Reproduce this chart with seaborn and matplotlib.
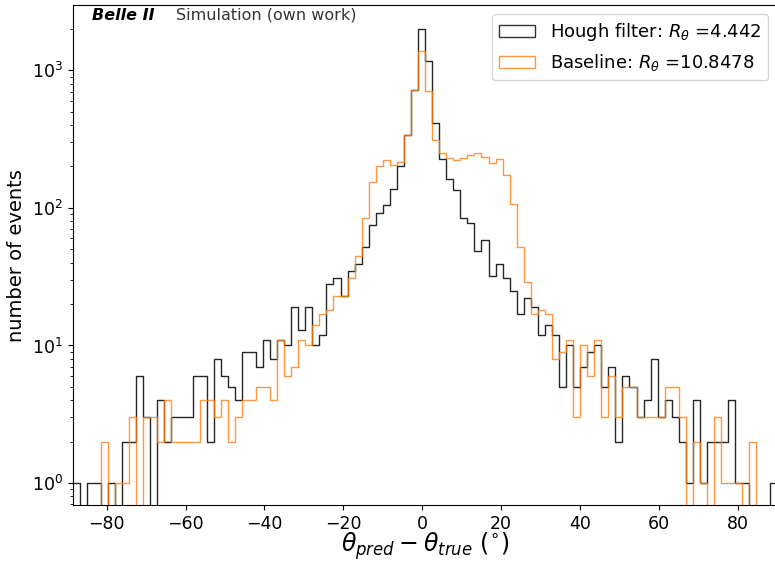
import numpy as np
import pandas as pd
import seaborn as sns
import matplotlib.pyplot as plt
from matplotlib.patches import Patch

# histogram range (degrees) and number of bins
theta_min = -88.6
theta_max = 90.0
n_bins = 100

# counts per bin
hough_counts = [
    1, 0, 1, 1, 0, 1, 0, 2, 2, 6,
    3, 0, 4, 2, 3, 3, 3, 6, 6, 2,
    8, 6, 5, 4, 9, 9, 7, 11, 8, 11,
    10, 19, 13, 19, 10, 12, 28, 31, 23, 35,
    39, 52, 75, 92, 105, 138, 200, 338, 718, 2000,
    1170, 411, 228, 161, 135, 84, 78, 49, 58, 32,
    39, 31, 25, 17, 22, 19, 12, 14, 12, 5,
    10, 5, 7, 9, 10, 5, 7, 2, 6, 5,
    3, 4, 8, 3, 4, 3, 2, 1, 4, 1,
    2, 2, 2, 4, 1, 1, 0, 0, 0, 1,
]
baseline_counts = [
    0, 0, 0, 0, 2, 0, 1, 1, 3, 0,
    3, 3, 2, 4, 2, 2, 2, 2, 4, 4,
    3, 4, 2, 3, 4, 4, 5, 5, 4, 11,
    6, 7, 11, 10, 14, 17, 18, 23, 23, 31,
    45, 85, 155, 200, 223, 206, 214, 338, 718, 1390,
    710, 311, 252, 229, 223, 229, 242, 252, 235, 213,
    226, 174, 107, 52, 29, 17, 18, 17, 8, 9,
    11, 3, 10, 6, 11, 3, 6, 3, 5, 5,
    3, 3, 3, 3, 5, 5, 3, 0, 2, 1,
    0, 3, 1, 1, 1, 0, 2, 0, 0, 0,
]

hough_label = 'Hough filter: $R_\\theta$ =4.442'
baseline_label = 'Baseline: $R_\\theta$ =10.8478'

edges = np.linspace(theta_min, theta_max, n_bins + 1)
centers = (edges[:-1] + edges[1:]) / 2
df = pd.DataFrame({'theta': centers, 'hough': hough_counts, 'baseline': baseline_counts})

fig = plt.figure(figsize=(7.75, 5.61), dpi=100)
ax = fig.add_axes([0.0938, 0.0993, 0.9094, 0.8918])

sns.histplot(data=df, x='theta', weights='hough', bins=edges.tolist(), element='step',
             fill=False, color='black', alpha=0.85, linewidth=1, ax=ax)
sns.histplot(data=df, x='theta', weights='baseline', bins=edges.tolist(), element='step',
             fill=False, color='tab:orange', alpha=0.8, linewidth=1, ax=ax)

ax.set_yscale('log')
ax.set_ylim(0.69, 2980)
ax.set_xlim(theta_min, theta_max)
ax.set_xticks([-80, -60, -40, -20, 0, 20, 40, 60, 80])
ax.tick_params(labelsize=12.5)

ax.set_xlabel('$\\theta_{pred} - \\theta_{true}$ ($^{\\circ}$)', fontsize=17, labelpad=-2)
ax.set_ylabel('number of events', fontsize=14)

handles = [
    Patch(facecolor='none', edgecolor='black', alpha=0.8, linewidth=1),
    Patch(facecolor='none', edgecolor='tab:orange', alpha=0.8, linewidth=1),
]
ax.legend(handles, [hough_label, baseline_label], loc='upper right', fontsize=13)

ax.text(0.027, 0.971, 'Belle II', transform=ax.transAxes, fontsize=11.5,
        fontweight='bold', fontstyle='italic')
ax.text(0.1466, 0.971, 'Simulation (own work)', transform=ax.transAxes,
        fontsize=11.5, color='#333333')

fig.savefig('out.png', dpi=100)
